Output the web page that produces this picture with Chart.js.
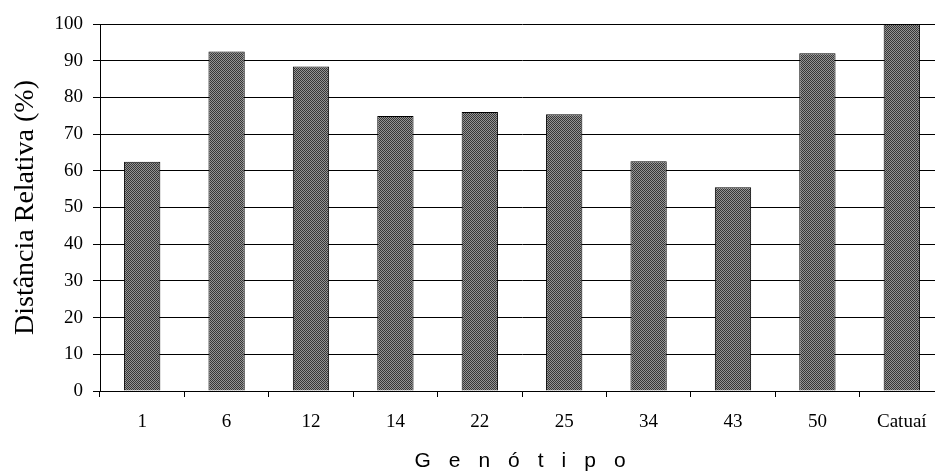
<!DOCTYPE html>
<html>
<head>
<meta charset="utf-8">
<script src="https://cdn.jsdelivr.net/npm/chart.js@4/dist/chart.umd.min.js"></script>
<style>
  html, body { margin: 0; padding: 0; background: #fff; overflow: hidden; }
  #wrap { width: 935px; height: 472px; overflow: hidden; }
</style>
</head>
<body>
<div id="wrap"><canvas id="chart" width="945" height="472"></canvas></div>
<script>
/* global Chart */

const genotipos = ["1", "6", "12", "14", "22", "25", "34", "43", "50", "Catuaí"];
const distancia = [62.5, 92.5, 88.4, 74.9, 76.0, 75.4, 62.6, 55.5, 92.0, 100];
const yTicks = [0, 10, 20, 30, 40, 50, 60, 70, 80, 90, 100];

const serif = "'Liberation Serif', 'Times New Roman', serif";
const sans = "'Liberation Sans', Arial, sans-serif";

function makePattern() {
  const c = document.createElement("canvas");
  c.width = 2;
  c.height = 2;
  const g = c.getContext("2d");
  g.fillStyle = "#949494";
  g.fillRect(0, 0, 2, 2);
  g.fillStyle = "#363636";
  g.fillRect(0, 0, 1, 1);
  g.fillRect(1, 1, 1, 1);
  return g.createPattern(c, "repeat");
}

// x title drawn by hand because it is letter-spaced
const spacedTitle = {
  id: "spacedTitle",
  afterDraw(chart) {
    const { ctx, chartArea } = chart;
    const text = "Genótipo";
    const ls = 18;
    ctx.save();
    ctx.font = `21px ${sans}`;
    ctx.letterSpacing = `${ls}px`;
    ctx.fillStyle = "#000";
    ctx.textBaseline = "middle";
    ctx.textAlign = "left";
    const w = ctx.measureText(text).width - ls;
    const cx = (chartArea.left + chartArea.right) / 2 - 2;
    ctx.fillText(text, cx - w / 2, 461);
    ctx.restore();
  },
};

const ctx = document.getElementById("chart").getContext("2d");
new Chart(ctx, {
  type: "bar",
  data: {
    labels: genotipos,
    datasets: [
      {
        data: distancia,
        backgroundColor: makePattern(),
        borderColor: "#000",
        borderWidth: 1,
        barPercentage: 0.43,
        categoryPercentage: 1,
      },
    ],
  },
  options: {
    responsive: false,
    animation: false,
    devicePixelRatio: 1,
    layout: { padding: { top: 24, right: 1, left: 0, bottom: 0 } },
    plugins: {
      legend: { display: false },
      tooltip: { enabled: false },
    },
    scales: {
      x: {
        grid: {
          offset: true,
          drawOnChartArea: false,
          drawTicks: true,
          tickLength: 6,
          color: "#000",
        },
        border: { color: "#000", width: 1 },
        ticks: {
          color: "#000",
          font: { family: serif, size: 19 },
          padding: 14,
          maxRotation: 0,
          autoSkip: false,
        },
        afterFit(scale) {
          scale.height = 81;
        },
      },
      y: {
        min: 0,
        max: 100,
        afterBuildTicks(scale) {
          scale.ticks = yTicks.map((v) => ({ value: v }));
        },
        grid: {
          color: "#000",
          lineWidth: 1,
          tickLength: 7,
        },
        border: { color: "#000", width: 1 },
        ticks: {
          color: "#000",
          font: { family: serif, size: 19 },
          padding: 10,
        },
        title: {
          display: true,
          text: "Distância Relativa (%)",
          color: "#000",
          font: { family: serif, size: 28, weight: "normal" },
          padding: { top: 9, bottom: 0 },
        },
        afterFit(scale) {
          scale.width = 100;
        },
      },
    },
  },
  plugins: [spacedTitle],
});
</script>
</body>
</html>
